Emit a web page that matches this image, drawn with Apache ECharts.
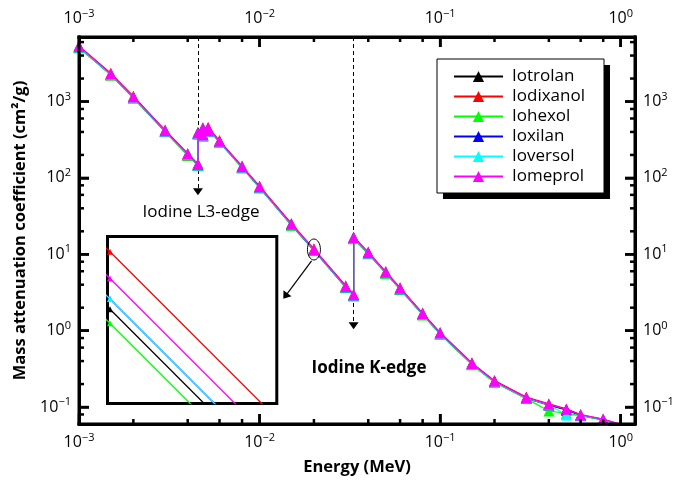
<!DOCTYPE html>
<html><head><meta charset="utf-8">
<script src="https://cdn.jsdelivr.net/npm/echarts@6/dist/echarts.min.js"></script>
<style>html,body{margin:0;padding:0;background:#fff}#c{width:690px;height:481px}</style>
</head><body><div id="c"></div>
<script>
// ---- data (MeV, cm^2/g) ----
const energy = [0.001, 0.0015, 0.002, 0.003, 0.004, 0.004557, 0.004557, 0.004852, 0.004852, 0.005188, 0.005188, 0.006, 0.008, 0.01, 0.015, 0.02, 0.03, 0.03317, 0.03317, 0.04, 0.05, 0.06, 0.08, 0.1, 0.15, 0.2, 0.3, 0.4, 0.5, 0.6, 0.8, 1.0];
const iotrolan  = [5130, 2247, 1124, 405, 200, 146.5, 379, 357, 435, 405, 440, 295, 136.8, 74.7, 24.2, 11.29, 3.711, 2.88, 16.2, 10.26, 5.69, 3.50, 1.63, 0.909, 0.363, 0.213, 0.130, 0.1062, 0.0918, 0.0776, 0.0680, 0.0585];
const iodixanol = [5360, 2345, 1173, 423, 209, 153, 396, 372, 454, 423, 459, 308, 142.8, 78.0, 25.3, 11.80, 3.879, 3.01, 16.9, 10.7, 5.94, 3.65, 1.70, 0.948, 0.379, 0.222, 0.1355, 0.1100, 0.0945, 0.0797, 0.0697, 0.0592];
const iohexol   = [5070, 2222, 1111, 401, 198, 145, 375, 353, 430, 401, 435, 292, 135.2, 73.9, 23.9, 11.17, 3.672, 2.85, 16.0, 10.14, 5.62, 3.46, 1.61, 0.898, 0.359, 0.210, 0.129, 0.0887, 0.0830, 0.0772, 0.0676, 0.0583];
const ioxilan   = [5200, 2277, 1139, 411, 203, 148.5, 384, 361, 441, 411, 446, 299, 138.6, 75.7, 24.55, 11.38, 3.741, 2.92, 16.45, 10.40, 5.76, 3.55, 1.653, 0.921, 0.368, 0.216, 0.1318, 0.1075, 0.0924, 0.0781, 0.0684, 0.0587];
const ioversol  = [5170, 2265, 1133, 409, 202, 148, 382, 360, 438, 409, 443, 297, 137.9, 75.4, 24.4, 11.38, 3.741, 2.91, 16.35, 10.34, 5.73, 3.53, 1.645, 0.916, 0.366, 0.215, 0.131, 0.1070, 0.0787, 0.0780, 0.0685, 0.0587];
const iomeprol  = [5250, 2300, 1150, 415, 205, 150, 388, 365, 445, 415, 450, 302, 140, 76.5, 24.8, 11.56, 3.80, 2.95, 16.6, 10.5, 5.82, 3.58, 1.67, 0.930, 0.372, 0.218, 0.133, 0.1086, 0.0933, 0.0787, 0.069, 0.0590];

const seriesNames = ['Iotrolan', 'Iodixanol', 'Iohexol', 'Ioxilan', 'Ioversol', 'Iomeprol'];
const seriesValues = [iotrolan, iodixanol, iohexol, ioxilan, ioversol, iomeprol];
const seriesColors = ['#000000', '#ff0000', '#00ff00', '#0000ff', '#00ffff', '#ff00ff'];

const majorX = [0.001, 0.01, 0.1, 1];
const minorX = [0.002, 0.004, 0.006, 0.008, 0.02, 0.04, 0.06, 0.08, 0.2, 0.4, 0.6, 0.8];
const majorY = [0.1, 1, 10, 100, 1000];
const minorY = [0.08, 0.2, 0.4, 0.6, 0.8, 2, 4, 6, 8, 20, 40, 60, 80, 200, 400, 600, 800, 2000, 4000, 6000];

const L3edge = 0.004557, Kedge = 0.03317;
const xRange = [0.001, 1.2], yRange = [0.06, 7000];

// ---- chart ----
const FONT = "'Open Sans', 'Noto Sans', sans-serif";
const chart = echarts.init(document.getElementById('c'), null, {renderer: 'canvas'});

function fmt(v) {
  const e = Math.round(Math.log10(v));
  return '{b|10}{s|' + (e < 0 ? '\u2212' + (-e) : String(e)) + '}';
}
const rich = {
  b: { fontSize: 16, fontFamily: FONT, color: '#000' },
  s: { fontSize: 11, fontFamily: FONT, color: '#000', padding: [0, 0, 10, 0] }
};

function axis(dim, pos) {
  const isX = dim === 'x';
  const vals = isX ? majorX : majorY;
  const r = isX ? xRange : yRange;
  return {
    type: 'log', logBase: 10, gridIndex: 0, position: pos, min: r[0], max: r[1],
    axisLine: { show: true, onZero: false, lineStyle: { color: '#000', width: 3 } },
    axisTick: { show: true, inside: true, length: 10, customValues: vals, lineStyle: { color: '#000', width: 2.5 } },
    axisLabel: { show: true, customValues: vals, formatter: fmt, rich: rich,
                 margin: 8, color: '#000', fontSize: 16, fontFamily: FONT },
    splitLine: { show: false }, minorTick: { show: false }, minorSplitLine: { show: false }
  };
}

const xAxes = [axis('x', 'bottom'), axis('x', 'top')];
xAxes[0].name = 'Energy (MeV)';
xAxes[0].nameLocation = 'middle';
xAxes[0].nameGap = 35;
xAxes[0].nameTextStyle = { fontSize: 16.5, fontWeight: 'bold', fontFamily: FONT, color: '#000' };
const yAxes = [axis('y', 'left'), axis('y', 'right')];
yAxes[0].name = 'Mass attenuation coefficient (cm\u00B2/g)';
yAxes[0].nameLocation = 'middle';
yAxes[0].nameGap = 40;
yAxes[0].nameTextStyle = { fontSize: 16.5, fontWeight: 'bold', fontFamily: FONT, color: '#000' };

// inset (magnified view around 0.02 MeV)
xAxes.push({ type: 'log', gridIndex: 1, min: 0.019986, max: 0.020955, show: false });
yAxes.push({ type: 'log', gridIndex: 1, min: 10.503, max: 11.9385, show: false });

const series = [];
seriesNames.forEach((n, i) => {
  series.push({
    name: n, type: 'line', xAxisIndex: 0, yAxisIndex: 0,
    data: energy.map((e, k) => [e, seriesValues[i][k]]),
    symbol: 'triangle', symbolSize: 11, color: seriesColors[i],
    lineStyle: { width: 1.2, color: seriesColors[i] },
    itemStyle: { color: seriesColors[i] }, z: 3 + i
  });
});
seriesNames.forEach((n, i) => {
  series.push({
    name: n, type: 'line', xAxisIndex: 2, yAxisIndex: 2, clip: true,
    data: energy.map((e, k) => [e, seriesValues[i][k]]),
    symbol: 'triangle', symbolSize: 6, color: seriesColors[i],
    lineStyle: { width: 1.3, color: seriesColors[i] },
    itemStyle: { color: seriesColors[i] }, z: 3 + i
  });
});
series.push({
  type: 'line', xAxisIndex: 0, yAxisIndex: 0, data: [], silent: true,
  markLine: {
    silent: true, animation: false, symbol: ['none', 'triangle'], symbolSize: [10, 7],
    label: { show: false },
    lineStyle: { color: '#000', width: 1, type: [4, 3] },
    emphasis: { disabled: true },
    data: [
      [{ coord: [L3edge, yRange[1]] }, { coord: [L3edge, 66] }],
      [{ coord: [Kedge, yRange[1]] }, { coord: [Kedge, 1.16] }],
      [{ coord: [0.01941, 8.21], lineStyle: { type: 'solid', width: 1.2 } }, { coord: [0.0139, 2.84] }]
    ]
  }
});

chart.setOption({
  animation: false,
  backgroundColor: '#fff',
  grid: [
    { left: 79, top: 37, width: 556, height: 388.5, containLabel: false },
    { left: 107.5, top: 236.5, width: 169.3, height: 167, show: true, borderColor: '#000', borderWidth: 3, backgroundColor: '#fff', z: 1 }
  ],
  xAxis: xAxes,
  yAxis: yAxes,
  legend: {
    data: seriesNames, orient: 'vertical', left: 453, top: 68, padding: 0,
    itemWidth: 49, itemHeight: 14, itemGap: 3, selectedMode: false,
    textStyle: { fontSize: 17, fontFamily: FONT, color: '#000', padding: [0, 0, 0, 4] }, z: 10
  },
  series: series
});

// ticks and frame as filled bars, positioned through the main grid's own scales
const px = v => chart.convertToPixel({ gridIndex: 0 }, [v, 1])[0];
const py = v => chart.convertToPixel({ gridIndex: 0 }, [0.01, v])[1];
const X0 = px(xRange[0]), X1 = px(xRange[1]), Y0 = py(yRange[1]), Y1 = py(yRange[0]);
const g = [];
const bar = (x, y, w, h) => g.push({ type: 'rect', shape: { x: x, y: y, width: w, height: h }, style: { fill: '#000' }, z: 21 });
const TW = 2.5;
majorX.forEach(v => { const x = px(v); bar(x - TW / 2, Y1 - 10, TW, 10); bar(x - TW / 2, Y0, TW, 10); });
minorX.forEach(v => { const x = px(v); bar(x - TW / 2, Y1 - 5, TW, 5); bar(x - TW / 2, Y0, TW, 5); });
majorY.forEach(v => { const y = py(v); bar(X0, y - TW / 2, 10, TW); bar(X1 - 10, y - TW / 2, 10, TW); });
minorY.forEach(v => { const y = py(v); bar(X0, y - TW / 2, 5, TW); bar(X1 - 5, y - TW / 2, 5, TW); });
bar(X0 - 1.5, Y0 - 1.5, X1 - X0 + 3, 3);
bar(X0 - 1.5, Y1 - 1.5, X1 - X0 + 3, 3);
bar(X0 - 1.5, Y0 - 1.5, 3, Y1 - Y0 + 3);
bar(X1 - 1.5, Y0 - 1.5, 3, Y1 - Y0 + 3);

const c = chart.convertToPixel({ gridIndex: 0 }, [0.02, iomeprol[15]]);
g.push(
  { type: 'rect', shape: { x: 443, y: 65, width: 167, height: 134 }, style: { fill: '#000' }, z: 5 },
  { type: 'rect', shape: { x: 437, y: 59, width: 167, height: 134 }, style: { fill: '#fff', stroke: '#000', lineWidth: 1 }, z: 6 },
  { type: 'ellipse', shape: { cx: c[0], cy: c[1], rx: 6.5, ry: 10.5 }, style: { fill: 'none', stroke: '#000', lineWidth: 1 }, z: 20 },
  { type: 'text', x: 201, y: 212, style: { text: 'Iodine L3-edge', align: 'center', verticalAlign: 'middle', fontSize: 17, fontFamily: FONT, fill: '#000' }, z: 20 },
  { type: 'text', x: 369, y: 368, style: { text: 'Iodine K-edge', align: 'center', verticalAlign: 'middle', fontSize: 17, fontWeight: 'bold', fontFamily: FONT, fill: '#000' }, z: 20 }
);
chart.setOption({ graphic: g });
</script>
</body></html>
